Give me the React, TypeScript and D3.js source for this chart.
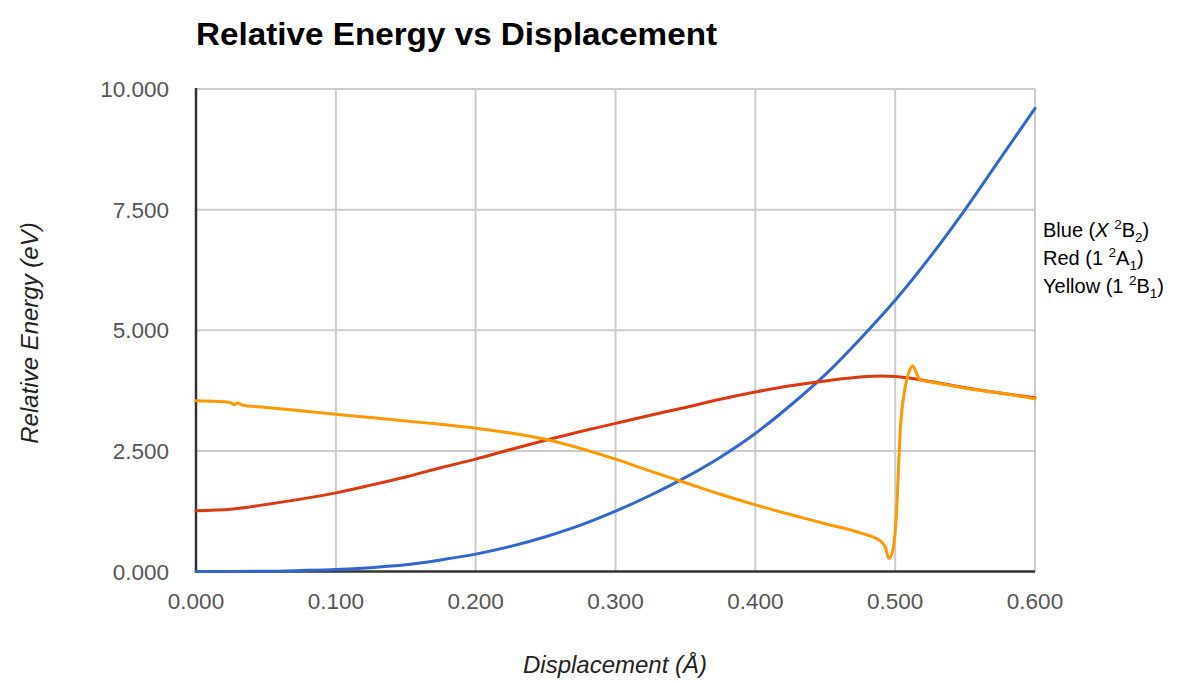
import React from "react";
import * as d3 from "d3";

const blueX = [0, 0.025, 0.05, 0.075, 0.1, 0.125, 0.15, 0.175, 0.2, 0.225, 0.25, 0.275, 0.3, 0.325, 0.35, 0.375, 0.4, 0.425, 0.45, 0.475, 0.5, 0.525, 0.55, 0.575, 0.6];
const blueY = [0, 0.001, 0.005, 0.02, 0.04, 0.08, 0.14, 0.24, 0.36, 0.52, 0.72, 0.96, 1.25, 1.58, 1.95, 2.37, 2.86, 3.44, 4.08, 4.82, 5.62, 6.52, 7.5, 8.55, 9.6];

const redX = [0, 0.025, 0.05, 0.075, 0.1, 0.125, 0.15, 0.175, 0.2, 0.225, 0.25, 0.275, 0.3, 0.325, 0.35, 0.375, 0.4, 0.425, 0.45, 0.475, 0.49, 0.5, 0.525, 0.55, 0.575, 0.6];
const redY = [1.26, 1.29, 1.39, 1.5, 1.63, 1.79, 1.96, 2.15, 2.33, 2.53, 2.72, 2.9, 3.07, 3.24, 3.4, 3.57, 3.72, 3.85, 3.95, 4.03, 4.05, 4.04, 3.94, 3.81, 3.7, 3.6];

const yellowX = [0, 0.02, 0.025, 0.027, 0.03, 0.033, 0.05, 0.075, 0.1, 0.125, 0.15, 0.175, 0.2, 0.225, 0.25, 0.275, 0.3, 0.325, 0.35, 0.375, 0.4, 0.425, 0.45, 0.475, 0.49, 0.493, 0.4955, 0.498, 0.5005, 0.504, 0.5095, 0.5125, 0.5155, 0.5175, 0.525, 0.55, 0.575, 0.6];
const yellowY = [3.54, 3.52, 3.5, 3.46, 3.49, 3.45, 3.4, 3.33, 3.26, 3.19, 3.12, 3.05, 2.97, 2.87, 2.74, 2.55, 2.33, 2.08, 1.84, 1.6, 1.38, 1.18, 0.99, 0.8, 0.62, 0.5, 0.27, 0.4, 1.0, 3.08, 4.1, 4.26, 4.1, 3.97, 3.93, 3.8, 3.7, 3.58];

const xTicks = [0, 0.1, 0.2, 0.3, 0.4, 0.5, 0.6];
const yTicks = [0, 2.5, 5, 7.5, 10];

const W = 1185;
const H = 682;
const left = 196;
const right = 1035;
const top = 89;
const bottom = 571.5;

export default function App() {
  const x = d3.scaleLinear().domain([0, 0.6]).range([left, right]);
  const y = d3.scaleLinear().domain([0, 10]).range([bottom, top]);
  const line = d3
    .line<[number, number]>()
    .x((d) => x(d[0]))
    .y((d) => y(d[1]))
    .curve(d3.curveMonotoneX);

  const series = [
    { xs: blueX, ys: blueY, color: "#3366cc" },
    { xs: redX, ys: redY, color: "#dc3912" },
    { xs: yellowX, ys: yellowY, color: "#ff9900" },
  ];

  const font = "Arial, 'Liberation Sans', Helvetica, sans-serif";
  const fmt = d3.format(".3f");

  return (
    <svg
      width={W}
      height={H}
      style={{ position: "absolute", left: 0, top: 0, background: "#fff" }}
      fontFamily={font}
    >
      <rect x={0} y={0} width={W} height={H} fill="#fff" />
      <text x={196} y={45} fontSize={32} fontWeight="bold" fill="#000" textLength={521} lengthAdjust="spacingAndGlyphs">
        Relative Energy vs Displacement
      </text>
      {xTicks.slice(1).map((t) => (
        <line key={"gx" + t} x1={x(t)} x2={x(t)} y1={top} y2={bottom} stroke="#cccccc" strokeWidth={2} />
      ))}
      {yTicks.slice(1).map((t) => (
        <line key={"gy" + t} x1={left} x2={right} y1={y(t)} y2={y(t)} stroke="#cccccc" strokeWidth={2} />
      ))}
      <line x1={left} x2={left} y1={top - 1} y2={bottom + 1} stroke="#333" strokeWidth={2.5} />
      <line x1={left} x2={right} y1={bottom} y2={bottom} stroke="#333" strokeWidth={2.5} />
      {yTicks.map((t) => (
        <text key={"yl" + t} x={169} y={y(t) + 8} fontSize={22.5} fill="#555" textAnchor="end">
          {fmt(t)}
        </text>
      ))}
      {xTicks.map((t) => (
        <text key={"xl" + t} x={x(t)} y={609} fontSize={22.5} fill="#555" textAnchor="middle">
          {fmt(t)}
        </text>
      ))}
      {series.map((s, i) => (
        <path
          key={"s" + i}
          d={line(s.xs.map((v, j) => [v, s.ys[j]] as [number, number])) || ""}
          fill="none"
          stroke={s.color}
          strokeWidth={3}
          strokeLinejoin="round"
          strokeLinecap="round"
        />
      ))}
      <text x={615} y={673} fontSize={24} fontStyle="italic" fill="#222" textAnchor="middle">
        Displacement (Å)
      </text>
      <text
        transform={`translate(38,333) rotate(-90)`}
        fontSize={24}
        fontStyle="italic"
        fill="#222"
        textAnchor="middle"
      >
        Relative Energy (eV)
      </text>
      <g fontSize={20} fill="#000">
        <text x={1043} y={237}>
          Blue (<tspan fontStyle="italic">X</tspan>
          <tspan> </tspan>
          <tspan fontSize={13.5} dy={-8}>2</tspan>
          <tspan dy={8}>B</tspan>
          <tspan fontSize={13.5} dy={5}>2</tspan>
          <tspan dy={-5}>)</tspan>
        </text>
        <text x={1043} y={265}>
          Red (1{" "}
          <tspan fontSize={13.5} dy={-8}>2</tspan>
          <tspan dy={8}>A</tspan>
          <tspan fontSize={13.5} dy={5}>1</tspan>
          <tspan dy={-5}>)</tspan>
        </text>
        <text x={1043} y={293}>
          Yellow (1{" "}
          <tspan fontSize={13.5} dy={-8}>2</tspan>
          <tspan dy={8}>B</tspan>
          <tspan fontSize={13.5} dy={5}>1</tspan>
          <tspan dy={-5}>)</tspan>
        </text>
      </g>
    </svg>
  );
}
